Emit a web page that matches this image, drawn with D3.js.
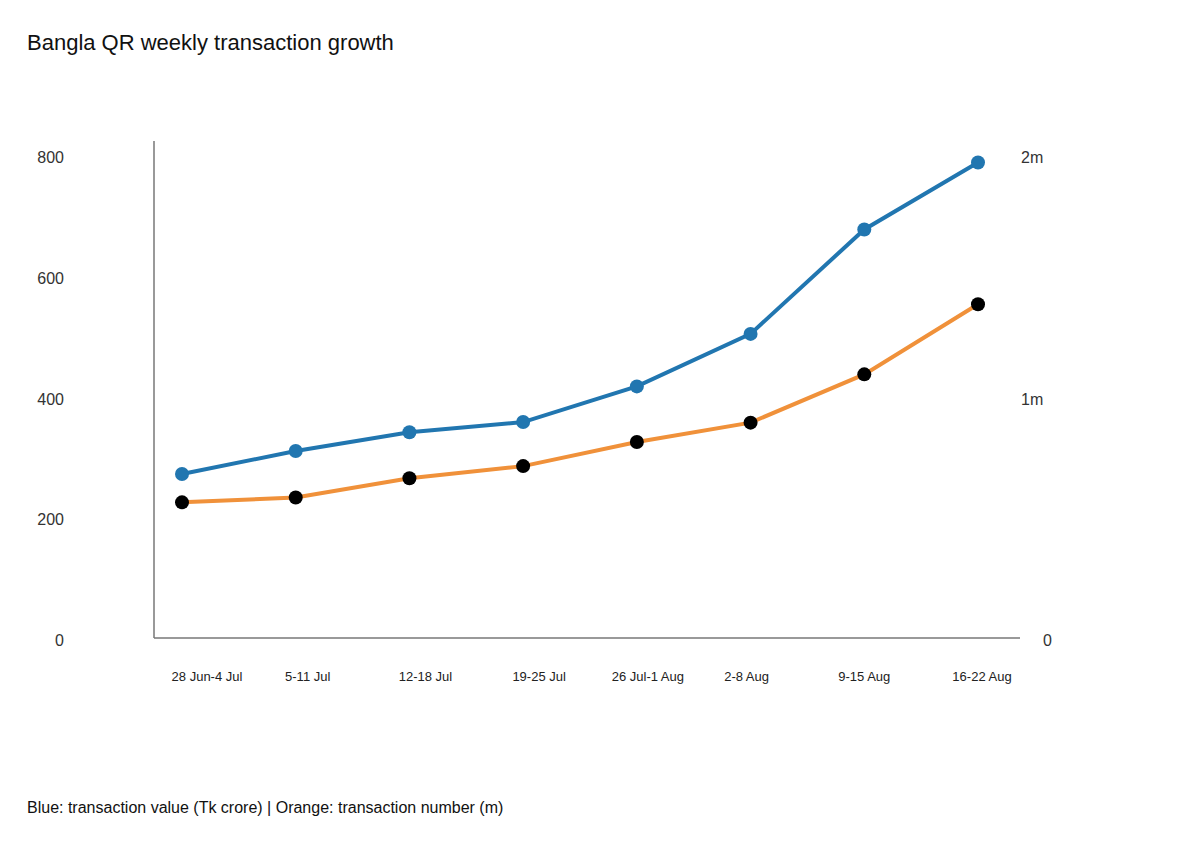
<!DOCTYPE html>
<html><head><meta charset="utf-8">
<script src="https://cdn.jsdelivr.net/npm/d3@7/dist/d3.min.js"></script>
<style>body{margin:0;background:#fff;font-family:Arial,"Liberation Sans",sans-serif}</style>
</head><body>
<svg id="c" width="1186" height="841"></svg>
<script>
const weeks=["28 Jun-4 Jul","5-11 Jul","12-18 Jul","19-25 Jul","26 Jul-1 Aug","2-8 Aug","9-15 Aug","16-22 Aug"];
const valueTk=[275,313,344,361,420,507,680,791];
const numberM=[0.57,0.59,0.67,0.72,0.82,0.90,1.10,1.39];
const leftTicks=[0,200,400,600,800];
const rightTicks=[0,1,2];
const svg=d3.select("#c");
const x=d3.scalePoint().domain(weeks).range([182,978]);
const yL=d3.scaleLinear().domain([0,800]).range([640,157]);
const yR=d3.scaleLinear().domain([0,2]).range([640,157]);
svg.append("text").attr("x",27).attr("y",50).attr("font-size",22).attr("fill","#111").text("Bangla QR weekly transaction growth");
svg.append("line").attr("x1",154).attr("x2",154).attr("y1",141).attr("y2",638).attr("stroke","#777").attr("stroke-width",1.5);
svg.append("line").attr("x1",154).attr("x2",1020).attr("y1",638).attr("y2",638).attr("stroke","#777").attr("stroke-width",1.5);
svg.selectAll(".lt").data(leftTicks).join("text").attr("x",64).attr("y",d=>yL(d)+6).attr("text-anchor","end").attr("font-size",16).attr("fill","#333").text(d=>d);
svg.selectAll(".rt").data(rightTicks).join("text").attr("x",d=>d===0?1043:1021).attr("y",d=>(d===1?yR(d)+7-7:yR(d))+6).attr("font-size",16).attr("fill","#333").text(d=>d===0?"0":d+"m");
svg.selectAll(".xt").data(weeks).join("text").attr("x",d=>x(d)+[25,12,16,16,11,-4,0,4][weeks.indexOf(d)]).attr("y",681).attr("text-anchor","middle").attr("font-size",13).attr("fill","#222").text(d=>d);
const lineL=d3.line().x((d,i)=>x(weeks[i])).y(d=>yL(d));
const lineR=d3.line().x((d,i)=>x(weeks[i])).y(d=>yR(d));
svg.append("path").attr("d",lineL(valueTk)).attr("fill","none").attr("stroke","#2176b0").attr("stroke-width",4);
svg.append("path").attr("d",lineR(numberM)).attr("fill","none").attr("stroke","#f0913a").attr("stroke-width",4);
svg.selectAll(".bp").data(valueTk).join("circle").attr("cx",(d,i)=>x(weeks[i])).attr("cy",d=>yL(d)).attr("r",7).attr("fill","#2176b0");
svg.selectAll(".op").data(numberM).join("circle").attr("cx",(d,i)=>x(weeks[i])).attr("cy",d=>yR(d)).attr("r",7).attr("fill","#000");
svg.append("text").attr("x",27).attr("y",813).attr("font-size",16).attr("fill","#111").text("Blue: transaction value (Tk crore) | Orange: transaction number (m)");
</script>
</body></html>
